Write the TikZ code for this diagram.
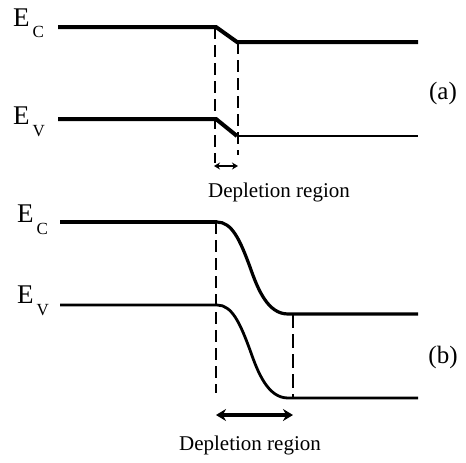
\documentclass[tikz,border=0pt]{standalone}
\usepackage{fontspec}
\setmainfont{Liberation Serif}
\usetikzlibrary{arrows.meta}
\newcommand{\nivel}[1]{E\kern3pt\raisebox{-12pt}{\fontsize{17}{17}\selectfont #1}}
\tikzset{
  banda/.style={line width=4pt},
  media/.style={line width=3.2pt},
  fina/.style={line width=2.8pt},
  guion/.style={line width=1.3pt, dash pattern=on 12pt off 6pt},
  guiong/.style={line width=2.2pt, dash pattern=on 14pt off 6pt},
  flchica/.style={{Stealth[length=6pt,width=7pt]}-{Stealth[length=6pt,width=7pt]}, line width=2pt},
  flgrande/.style={{Stealth[length=10pt,width=12pt]}-{Stealth[length=10pt,width=12pt]}, line width=3.2pt},
  niv/.style={anchor=base west, inner sep=0pt, font=\fontsize{27}{27}\selectfont},
  et/.style={anchor=base, inner sep=0pt, font=\fontsize{21}{23}\selectfont},
  pan/.style={inner sep=0pt, font=\fontsize{25}{27}\selectfont},
}

\begin{document}
\begin{tikzpicture}[x=1pt,y=-1pt]
  \useasboundingbox (0,0) rectangle (466,463);
  % (a) abrupt junction
  \coordinate (ca1) at (58,27);  \coordinate (ca2) at (216,27);  \coordinate (ca3) at (237,42);  \coordinate (ca4) at (418,42);
  \coordinate (va1) at (58,119); \coordinate (va2) at (216,119); \coordinate (va3) at (237,136); \coordinate (va4) at (418,136);
  \coordinate (da1) at (215,163); \coordinate (da2) at (238,155);
  \coordinate (fa1) at (214,166); \coordinate (fa2) at (238,166);
  \draw[banda] (ca1) -- (ca2) -- (ca3) -- (ca4);
  \draw[banda] (va1) -- (va2) -- (va3);
  \draw[fina] (va3) -- (va4);
  \draw[guion] (ca2 -| da1) -- (da1);
  \draw[guion] (ca3 -| da2) -- (da2);
  \draw[flchica] (fa1) -- (fa2);
  \node[niv] (eca) at (13,26) {\nivel{C}};
  \node[niv] (eva) at (13,124) {\nivel{V}};
  \node[et] (dra) at (279,197) {Depletion region};
  \node[pan] (pa) at (443,93) {(a)};
  % (b) graded junction
  \coordinate (cb1) at (60,222);  \coordinate (cb2) at (217,222);  \coordinate (cb3) at (288,314); \coordinate (cb4) at (418,314);
  \coordinate (vb1) at (60,305);  \coordinate (vb2) at (217,305);  \coordinate (vb3) at (288,398); \coordinate (vb4) at (418,398);
  \coordinate (db1) at (216,393); \coordinate (db2) at (293,314);  \coordinate (db3) at (293,398);
  \coordinate (fb1) at (216,415); \coordinate (fb2) at (293,415);
  \draw[banda] (cb1) -- (cb2);
  \draw[media] (cb2) .. controls (232,222) and (240,240) .. (250,267)
                     .. controls (258,290) and (268,314) .. (cb3) -- (cb4);
  \draw[fina] (vb1) -- (vb2) .. controls (232,305) and (240,323) .. (250,350)
                     .. controls (258,373) and (268,398) .. (vb3) -- (vb4);
  \draw[guion] (cb2 -| db1) -- (db1);
  \draw[guiong] (db2) -- (db3);
  \draw[flgrande] (fb1) -- (fb2);
  \node[niv] (ecb) at (17,222) {\nivel{C}};
  \node[niv] (evb) at (17,303) {\nivel{V}};
  \node[et] (drb) at (250,450) {Depletion region};
  \node[pan] (pb) at (443,357) {(b)};
\end{tikzpicture}
\end{document}
